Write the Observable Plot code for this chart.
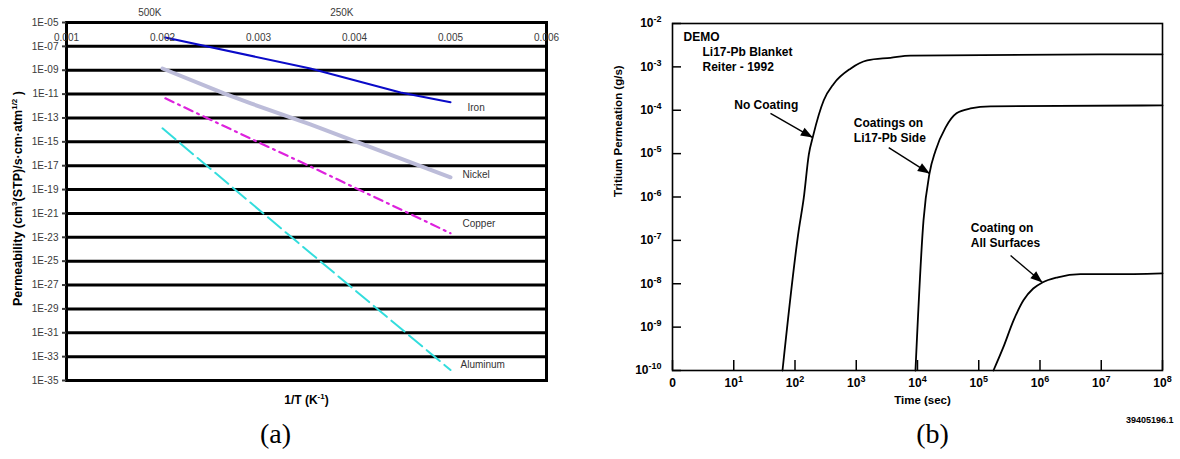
<!DOCTYPE html>
<html><head><meta charset="utf-8">
<script src="https://cdn.jsdelivr.net/npm/d3@7"></script>
<script src="https://cdn.jsdelivr.net/npm/@observablehq/plot@0.6"></script>
<style>
body{margin:0;background:#fff}
#wrap{position:relative;width:1180px;height:459px;overflow:hidden;background:#fff}
.panel{position:absolute;top:0}
</style>
</head><body><div id="wrap"><div id="pa" class="panel" style="left:0"></div><div id="pb" class="panel" style="left:590px"></div></div>
<script>
// ================= Panel (a): permeability vs 1/T =================
const ironInvT = [0.00203, 0.00354, 0.00448, 0.0050];
const ironPerm = [5.5e-7, 1.4e-9, 1.38e-11, 2.04e-12];
const nickelInvT = [0.0020, 0.00264, 0.00292, 0.00354, 0.00398, 0.0050];
const nickelPerm = [1.4e-9, 1.15e-11, 1.66e-12, 2.9e-14, 1.35e-15, 1.07e-18];
const copperInvT = [0.00203, 0.00295, 0.00347, 0.0050];
const copperPerm = [4.4e-12, 1.4e-15, 1.6e-17, 2.2e-23];
const aluminumInvT = [0.0020, 0.00333, 0.0050];
const aluminumPerm = [1.35e-14, 1.26e-23, 7.6e-35];

const seriesNamesA = ["Iron", "Nickel", "Copper", "Aluminum"];
const seriesLabelInvT = [0.005177, 0.005125, 0.005125, 0.005104];
const seriesLabelPerm = [7.8e-13, 1.9e-18, 1.26e-22, 2.0e-34];

const yTicksA = [1e-5,1e-7,1e-9,1e-11,1e-13,1e-15,1e-17,1e-19,1e-21,1e-23,1e-25,1e-27,1e-29,1e-31,1e-33,1e-35];
const yTickLabelsA = ["1E-05","1E-07","1E-09","1E-11","1E-13","1E-15","1E-17","1E-19","1E-21","1E-23","1E-25","1E-27","1E-29","1E-31","1E-33","1E-35"];
const xTicksA = [0.001,0.002,0.003,0.004,0.005,0.006];
const xTickLabelsA = ["0.001","0.002","0.003","0.004","0.005","0.006"];
const tempTicks = [1/500, 1/250];
const tempLabels = ["500K", "250K"];

// ================= Panel (b): tritium permeation vs time =================
const noCoatingT = [62.5, 115, 139, 168, 198, 295, 430, 805, 1510, 3620, 7690, 1e8];
const noCoatingP = [1e-10, 1.7e-7, 9.5e-7, 9.5e-6, 2.6e-5, 1.7e-4, 4.1e-4, 9.1e-4, 1.41e-3, 1.62e-3, 1.82e-3, 1.95e-3];
const liSideT = [9268, 12530, 15700, 19680, 28640, 43350, 73280, 155600, 1e8];
const liSideP = [1e-10, 2.9e-7, 3.5e-6, 1.17e-5, 3.98e-5, 8.5e-5, 1.10e-4, 1.23e-4, 1.29e-4];
const allSurfT = [173800, 251200, 371500, 537000, 776200, 1.096e6, 1.95e6, 4.57e6, 1.585e7, 1e8];
const allSurfP = [1e-10, 3.4e-10, 1.45e-9, 4.17e-9, 7.76e-9, 1.07e-8, 1.41e-8, 1.66e-8, 1.66e-8, 1.74e-8];

const xTicksB = [1,1e1,1e2,1e3,1e4,1e5,1e6,1e7,1e8];
const xTickLabelsB = ["0","10^1","10^2","10^3","10^4","10^5","10^6","10^7","10^8"];
const yTicksB = [1e-2,1e-3,1e-4,1e-5,1e-6,1e-7,1e-8,1e-9,1e-10];
const yTickLabelsB = ["10^-2","10^-3","10^-4","10^-5","10^-6","10^-7","10^-8","10^-9","10^-10"];

const noteTexts = ["DEMO","Li17-Pb Blanket","Reiter - 1992","No Coating","Coatings on","Li17-Pb Side","Coating on","All Surfaces"];
const noteT = [1.51, 3.09, 3.09, 10.2, 912, 912, 74100, 74100];
const noteP = [4.8e-3, 2.14e-3, 9.8e-4, 1.29e-4, 5.0e-5, 2.24e-5, 1.9e-7, 8.5e-8];
const arrowT1 = [39.8, 3390, 331000];
const arrowP1 = [8.5e-5, 1.38e-5, 4.47e-8];
const arrowT2 = [195, 15850, 1.096e6];
const arrowP2 = [2.34e-5, 3.47e-6, 1.07e-8];

// ---------- build tables ----------
const zipXY = (xs, ys) => xs.map((x, i) => ({x, y: ys[i]}));
const iron = zipXY(ironInvT, ironPerm);
const nickel = zipXY(nickelInvT, nickelPerm);
const copper = zipXY(copperInvT, copperPerm);
const aluminum = zipXY(aluminumInvT, aluminumPerm);
const seriesLabels = seriesNamesA.map((name, i) => ({name, x: seriesLabelInvT[i], y: seriesLabelPerm[i]}));
const yLabA = new Map(yTicksA.map((d, i) => [d, yTickLabelsA[i]]));
const xLabA = new Map(xTicksA.map((d, i) => [d, xTickLabelsA[i]]));
const temps = tempTicks.map((x, i) => ({x, label: tempLabels[i]}));

const noCoating = zipXY(noCoatingT, noCoatingP);
const liSide = zipXY(liSideT, liSideP);
const allSurf = zipXY(allSurfT, allSurfP);
const notes = noteTexts.map((text, i) => ({text, x: noteT[i], y: noteP[i]}));
const arrows = arrowT1.map((x1, i) => ({x1, y1: arrowP1[i], x2: arrowT2[i], y2: arrowP2[i]}));
const xLabB = new Map(xTicksB.map((d, i) => [d, xTickLabelsB[i]]));
const yLabB = new Map(yTicksB.map((d, i) => [d, yTickLabelsB[i]]));

const sans = "'Liberation Sans', Arial, Helvetica, sans-serif";
const serif = "'Liberation Serif', 'Times New Roman', Times, serif";
const SVGNS = "http://www.w3.org/2000/svg";

// turn a text element into pieces with raised (superscript) parts
function superscript(t, parts, shift, size) {
  while (t.firstChild) t.removeChild(t.firstChild);
  let up = false;
  for (const [s, sup] of parts) {
    const ts = document.createElementNS(SVGNS, "tspan");
    ts.textContent = s;
    if (sup) { ts.setAttribute("font-size", size); if (!up) { ts.setAttribute("dy", -shift); up = true; } }
    else if (up) { ts.setAttribute("dy", shift); up = false; }
    t.appendChild(ts);
  }
}

const plotA = Plot.plot({
  width: 590, height: 459,
  marginLeft: 66, marginRight: 44, marginTop: 22, marginBottom: 79,
  style: {fontFamily: sans, fontSize: "10px", color: "#3a3a3a", background: "white", overflow: "visible"},
  x: {domain: [0.001, 0.006]},
  y: {type: "log", domain: [1e-35, 1e-5]},
  marks: [
    Plot.ruleY(yTicksA, {stroke: "black", strokeWidth: 3}),
    Plot.line(nickel, {x: "x", y: "y", stroke: "#bcbcd9", strokeWidth: 4}),
    Plot.line(iron, {x: "x", y: "y", stroke: "#0a0ac8", strokeWidth: 2}),
    Plot.line(copper, {x: "x", y: "y", stroke: "#dd22dd", strokeWidth: 2.2, strokeDasharray: "9,5,2,5"}),
    Plot.line(aluminum, {x: "x", y: "y", stroke: "#33dddd", strokeWidth: 2, strokeDasharray: "17,6"}),
    Plot.frame({stroke: "black", strokeWidth: 3}),
    Plot.axisY({ticks: yTicksA, tickFormat: d => yLabA.get(d), tickSize: 4, tickPadding: 4, strokeWidth: 2, label: null}),
    Plot.axisX({anchor: "top", ticks: xTicksA, tickFormat: d => xLabA.get(d), tickSize: 0, tickPadding: -15, lineAnchor: "middle", label: null}),
    Plot.text(temps, {x: "x", text: "label", frameAnchor: "top", dy: -10, textAnchor: "end", dx: -1, lineAnchor: "middle"}),
    Plot.text(seriesLabels, {x: "x", y: "y", text: "name", textAnchor: "start", fill: "#333"}),
    Plot.text(["Permeability (cm3(STP)/s·cm·atm1/2 )"], {frameAnchor: "left", rotate: -90, dx: -49, dy: -3, fontWeight: "bold", fontSize: 12.5, fill: "black"}),
    Plot.text(["1/T (K-1)"], {frameAnchor: "bottom", dy: 23, fontWeight: "bold", fontSize: 12, fill: "black"}),
    Plot.text(["(a)"], {frameAnchor: "bottom", dx: -31, dy: 62, fontFamily: serif, fontSize: 28, fill: "black"})
  ]
});
document.getElementById("pa").appendChild(plotA);

for (const t of plotA.querySelectorAll("text")) {
  if (t.textContent.startsWith("Permeability")) {
    t.setAttribute("text-anchor", "middle");
    superscript(t, [["Permeability (cm", 0], ["3", 1], ["(STP)/s·cm·atm", 0], ["1/2", 1], [" )", 0]], 5, 8);
  } else if (t.textContent === "1/T (K-1)") {
    superscript(t, [["1/T (K", 0], ["-1", 1], [")", 0]], 5, 8);
  }
}

const plotB = Plot.plot({
  width: 590, height: 459,
  marginLeft: 82, marginRight: 18, marginTop: 23, marginBottom: 89,
  style: {fontFamily: sans, fontSize: "12px", fontWeight: "bold", color: "black", background: "white", overflow: "visible"},
  x: {type: "log", domain: [1, 1e8]},
  y: {type: "log", domain: [1e-10, 1e-2]},
  marks: [
    Plot.frame({stroke: "black", strokeWidth: 1.6}),
    Plot.axisX({ticks: xTicksB, tickFormat: d => xLabB.get(d), tickSize: -10, tickPadding: 18, strokeWidth: 1.5, label: null}),
    Plot.axisY({ticks: yTicksB, tickFormat: d => yLabB.get(d), tickSize: -9, tickPadding: 20, strokeWidth: 1.5, label: null}),
    Plot.line(noCoating, {x: "x", y: "y", stroke: "black", strokeWidth: 1.8, curve: "monotone-x"}),
    Plot.line(liSide, {x: "x", y: "y", stroke: "black", strokeWidth: 1.8, curve: "monotone-x"}),
    Plot.line(allSurf, {x: "x", y: "y", stroke: "black", strokeWidth: 1.8, curve: "monotone-x"}),
    Plot.link(arrows, {x1: "x1", y1: "y1", x2: "x2", y2: "y2", stroke: "black", strokeWidth: 1.4, markerEnd: "arrow"}),
    Plot.text(notes, {x: "x", y: "y", text: "text", textAnchor: "start", fontWeight: "bold", fontSize: 12, fill: "black"}),
    Plot.text(["Tritium Permeation (g/s)"], {frameAnchor: "left", rotate: -90, dx: -54, fontWeight: "bold", fontSize: 11.5, fill: "black"}),
    Plot.text(["Time (sec)"], {frameAnchor: "bottom", dx: 5, dy: 33, fontWeight: "bold", fontSize: 11.5, fill: "black"}),
    Plot.text(["39405196.1"], {frameAnchor: "bottom-right", textAnchor: "end", dx: 11, dy: 52, fontWeight: "bold", fontSize: 9, fill: "black"}),
    Plot.text(["(b)"], {frameAnchor: "bottom", dx: 15, dy: 72, fontFamily: serif, fontWeight: "normal", fontSize: 28, fill: "black"})
  ]
});
document.getElementById("pb").appendChild(plotB);

// power-of-ten tick labels with raised exponents
for (const t of plotB.querySelectorAll("text")) {
  const m = /^10\^(-?\d+)$/.exec(t.textContent);
  if (m) superscript(t, [["10", 0], [m[1], 1]], 5, 9);
}

// filled arrowheads
for (const m of plotB.querySelectorAll("marker")) {
  m.setAttribute("viewBox", "-13 -6 14 12");
  m.setAttribute("markerWidth", "14");
  m.setAttribute("markerHeight", "12");
  m.setAttribute("markerUnits", "userSpaceOnUse");
  m.setAttribute("fill", "black");
  m.setAttribute("stroke", "none");
  const p = m.querySelector("path");
  if (p) p.setAttribute("d", "M-12,-4.5L0,0L-12,4.5Z");
}
</script>
</body></html>
